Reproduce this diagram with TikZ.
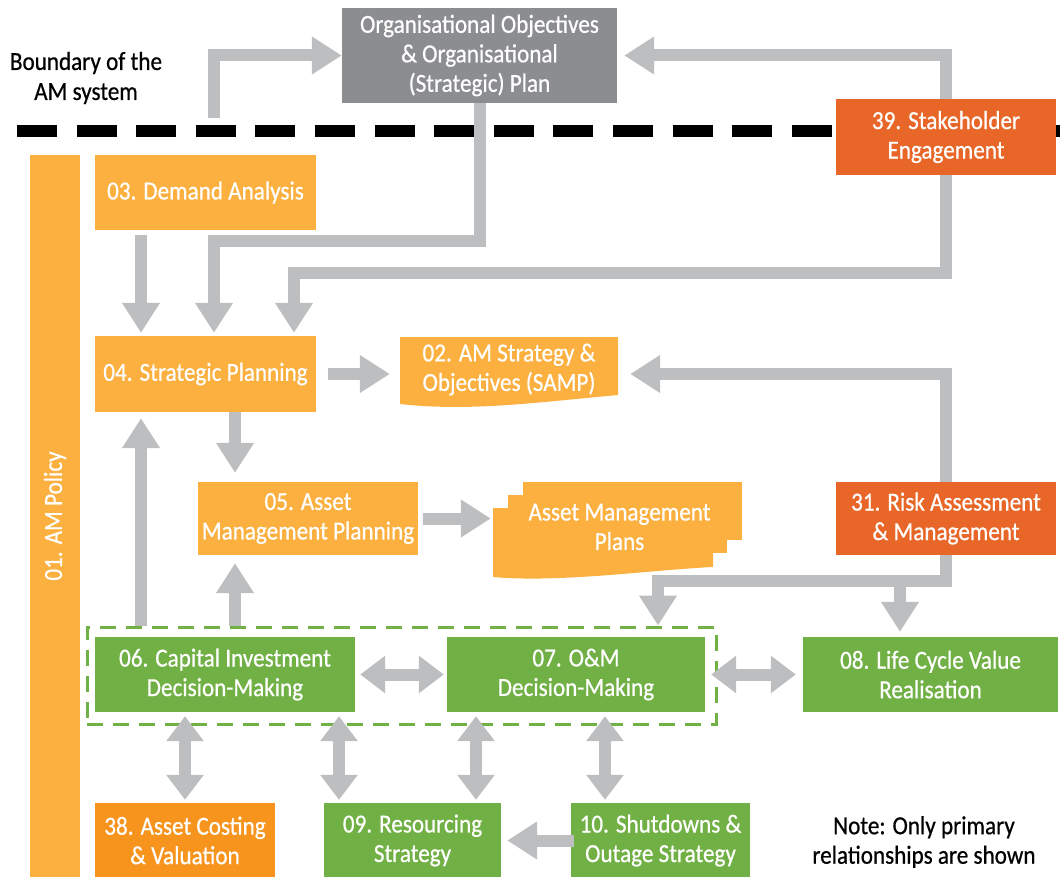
\documentclass[tikz,border=0pt]{standalone}
\usepackage{fontspec}
\setmainfont{Carlito}[FakeStretch=0.89, FakeBold=0.6]
\usetikzlibrary{arrows.meta}
\usetikzlibrary{positioning}
\definecolor{amorange}{RGB}{251,176,64}
\definecolor{amred}{RGB}{232,102,40}
\definecolor{amdark}{RGB}{247,148,29}
\definecolor{amgreen}{RGB}{113,176,68}
\definecolor{amgrey}{RGB}{140,141,144}
\definecolor{arrgrey}{RGB}{189,190,192}
\tikzset{
  box/.style={rectangle, inner sep=0pt, align=center, text=white, font=\fontsize{26}{29.5}\selectfont},
  garrow/.style={draw=arrgrey, line width=12pt, -{Triangle[length=30pt,width=36pt]}},
  gboth/.style={draw=arrgrey, line width=12pt, {Triangle[length=25pt,width=36pt]}-{Triangle[length=25pt,width=36pt]}},
}

\begin{document}
\begin{tikzpicture}[x=1pt,y=-1pt]
\useasboundingbox (0,0) rectangle (1060,877);
\draw[black, line width=12pt, dash pattern=on 40pt off 19.6pt] (17,131) -- (1060,131);
\node[align=center, font=\fontsize{26}{30}\selectfont] (bnd) at (86,78) {Boundary of the\\AM system};

\node[box, fill=amgrey, minimum width=275pt, minimum height=95pt] (obj) at (479.5,55.5) {Organisational Objectives\\\& Organisational\\(Strategic) Plan};
\node[box, fill=amred, minimum width=220pt, minimum height=76pt] (stake) at (946,137) {39. Stakeholder\\Engagement};
\node[box, fill=amorange, rotate=90, minimum width=722pt, minimum height=50pt] (pol) at (55,516) {01. AM Policy};
\node[box, fill=amorange, minimum width=221pt, minimum height=75pt] (demand) at (205.5,192.5) {03. Demand Analysis};
\node[box, fill=amorange, minimum width=221pt, minimum height=76pt] (strat) at (205.5,374) {04. Strategic Planning};
\node[box, fill=amorange, minimum width=220pt, minimum height=73pt] (apl) at (308,518.5) {05. Asset\\Management Planning};
\node[box, fill=amred, minimum width=220pt, minimum height=73pt] (risk) at (946,518.5) {31. Risk Assessment\\\& Management};

% document shapes
\fill[amorange] (400,337) -- (618,337) -- (618,395) .. controls (540,402) and (470,412) .. (400,404) -- cycle;
\fill[amorange] (523,482) rectangle (742,540);
\fill[amorange] (508,495) rectangle (727,553);
\fill[amorange] (493,508) -- (713,508) -- (713,567) .. controls (650,570) and (560,583) .. (493,577) -- cycle;
\node[box, minimum width=218pt, minimum height=60pt] (samp) at (509,369.5) {02. AM Strategy \&\\Objectives (SAMP)};
\node[box, minimum width=249pt, minimum height=60pt] (amp) at (619.5,527) {Asset Management\\Plans};

\node[draw=amgreen, line width=3pt, dash pattern=on 16pt off 10pt, minimum width=629pt, minimum height=97pt, inner sep=0pt] (dm) at (401.5,675.5) {};
\node[box, fill=amgreen, minimum width=260pt, minimum height=75pt] (capex) at (225,674.5) {06. Capital Investment\\Decision-Making};
\node[box, fill=amgreen, minimum width=258pt, minimum height=75pt] (om) at (576,674.5) {07. O\&M\\Decision-Making};
\node[box, fill=amgreen, minimum width=255pt, minimum height=75pt] (lcv) at (930.5,674.5) {08. Life Cycle Value\\Realisation};
\node[box, fill=amdark, minimum width=180pt, minimum height=75pt] (cost) at (185,840.5) {38. Asset Costing\\\& Valuation};
\node[box, fill=amgreen, minimum width=177pt, minimum height=75pt] (res) at (412.5,840.5) {09. Resourcing\\Strategy};
\node[box, fill=amgreen, minimum width=179pt, minimum height=75pt] (shut) at (660.5,840.5) {10. Shutdowns \&\\Outage Strategy};
\node[align=center, font=\fontsize{26}{29.5}\selectfont] (note) at (924,842) {Note: Only primary\\relationships are shown};

% arrows
\coordinate (b1) at (214,118);
\draw[garrow] (b1) |- (obj.west);
\draw[garrow, shorten >=7pt] (stake.north) |- (obj.east);
\draw[garrow, shorten >=3pt] (obj.south) |- (214,241) -- ([xshift=8.5pt]strat.north);
\draw[garrow, shorten >=3pt] (stake.south) |- (294,273) -- ([xshift=88.5pt]strat.north);
\draw[garrow, shorten <=5pt, shorten >=3pt] ([xshift=-64.5pt]demand.south) -- ([xshift=-64.5pt]strat.north);
\draw[garrow, shorten <=12pt, shorten >=10pt] (strat.east) -- (strat.east -| samp.west);
\draw[garrow, shorten >=12pt] (risk.north) |- ([yshift=-4.5pt]samp.east);
\draw[garrow, shorten >=9pt] ([xshift=29.5pt]strat.south) -- ([xshift=29.5pt]strat.south |- apl.north);
\draw[garrow, shorten >=6pt] ([xshift=-64.5pt]strat.south |- dm.north) -- ([xshift=-64.5pt]strat.south);
\draw[garrow, shorten >=8pt] ([xshift=-73pt]apl.south |- dm.north) -- ([xshift=-73pt]apl.south);
\draw[garrow, shorten <=5pt, shorten >=4pt] (apl.east) -- (apl.east -| amp.west);
\draw[garrow] (risk.south) |- (658,581) -- (658,581 |- dm.north);
\draw[garrow, shorten >=5pt] (risk.south) |- ([xshift=-30.5pt]lcv.north |- 0,581) -- ([xshift=-30.5pt]lcv.north);
\draw[gboth, shorten <=5pt, shorten >=3pt] (capex.east) -- (om.west);
\draw[gboth, shorten <=6pt, shorten >=7pt] (om.east) -- (lcv.west);
\draw[gboth, shorten <=4pt, shorten >=3pt] (capex.south -| cost.north) -- (cost.north);
\draw[gboth, shorten <=4pt, shorten >=3pt] ([xshift=114pt]capex.south) -- ([xshift=114pt]capex.south |- res.north);
\draw[gboth, shorten <=4pt, shorten >=3pt] ([xshift=-100pt]om.south) -- ([xshift=-100pt]om.south |- res.north);
\draw[gboth, shorten <=4pt, shorten >=3pt] ([xshift=29pt]om.south) -- ([xshift=29pt]om.south |- shut.north);
\draw[garrow, shorten <=-3pt, shorten >=6pt] (shut.west) -- (res.east);

\end{tikzpicture}
\end{document}
